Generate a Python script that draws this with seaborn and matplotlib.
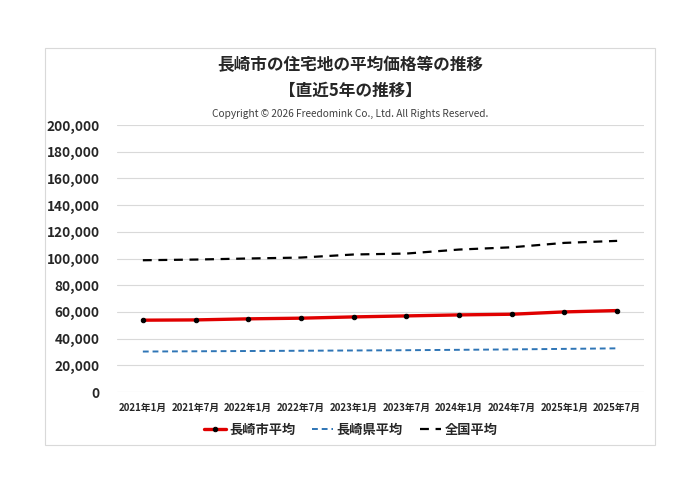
import matplotlib
matplotlib.use("Agg")
import matplotlib.pyplot as plt
import seaborn as sns
import pandas as pd
from matplotlib.patches import Rectangle
from matplotlib.ticker import FuncFormatter, MultipleLocator

sns.set_theme(style="white")
plt.rcParams['font.family'] = ['Noto Sans CJK JP', 'DejaVu Sans']

periods = ["2021年1月", "2021年7月", "2022年1月", "2022年7月", "2023年1月",
           "2023年7月", "2024年1月", "2024年7月", "2025年1月", "2025年7月"]
city_avg = [53800, 54000, 54800, 55300, 56250, 57000, 57750, 58250, 60000, 61000]
pref_avg = [30300, 30500, 30700, 30900, 31100, 31300, 31600, 31900, 32300, 32700]
national_avg = [98700, 99200, 100000, 100700, 103000, 103700, 106700, 108400, 111700, 113200]
series_names = ["長崎市平均", "長崎県平均", "全国平均"]

df = pd.DataFrame({"period": periods, "city": city_avg, "pref": pref_avg, "nat": national_avg})

fig = plt.figure(figsize=(7, 4.95), dpi=100)
fig.patch.set_facecolor("white")
fig.add_artist(Rectangle((44.5 / 700, 1 - 445 / 495), (655 - 44.5) / 700, (445 - 47.5) / 495,
                         transform=fig.transFigure, fill=False, edgecolor="#d9d9d9", linewidth=0.8))

ax = fig.add_axes([116.5 / 700, 1 - 392 / 495, (643.5 - 116.5) / 700, (392 - 125) / 495])

sns.lineplot(data=df, x="period", y="city", ax=ax, color="#e00000", linewidth=2.4,
             marker="o", markersize=3.2, markerfacecolor="black", markeredgecolor="black",
             label=series_names[0], sort=False)
sns.lineplot(data=df, x="period", y="pref", ax=ax, color="#2e75b6", linewidth=1.4,
             linestyle=(0, (3, 2)), label=series_names[1], sort=False)
sns.lineplot(data=df, x="period", y="nat", ax=ax, color="black", linewidth=1.6,
             linestyle=(0, (4, 3)), label=series_names[2], sort=False)

ax.set_xlim(-0.5, len(periods) - 0.5)
ax.set_ylim(0, 200000)
ax.yaxis.set_major_locator(MultipleLocator(20000))
ax.yaxis.set_major_formatter(FuncFormatter(lambda v, p: f"{int(v):,}"))
ax.grid(axis="y", color="#d9d9d9", linewidth=0.8)
ax.set_axisbelow(True)
for s in ax.spines.values():
    s.set_visible(False)
ax.set_xlabel("")
ax.set_ylabel("")
ax.tick_params(axis="y", labelsize=9.8, pad=12, length=0)
ax.tick_params(axis="x", labelsize=7, pad=8, length=0)
for lab in ax.get_yticklabels() + ax.get_xticklabels():
    lab.set_fontweight("bold")

fig.text(350 / 700, 1 - 65 / 495, "長崎市の住宅地の平均価格等の推移", ha="center", va="center",
         fontsize=12, fontweight="bold")
fig.text(350 / 700, 1 - 90.5 / 495, "【直近5年の推移】", ha="center", va="center",
         fontsize=12, fontweight="bold")
fig.text(350 / 700, 1 - 114 / 495, "Copyright © 2026 Freedomink Co., Ltd. All Rights Reserved.",
         ha="center", va="center", fontsize=7.3, color="#404040")

leg = ax.legend(loc="center", bbox_to_anchor=(351 / 700, 1 - 430 / 495), bbox_transform=fig.transFigure,
                ncol=3, frameon=False, fontsize=9.5, handlelength=1.6, columnspacing=1.3,
                handletextpad=0.25)
for t in leg.get_texts():
    t.set_fontweight("bold")

fig.savefig("out.png", dpi=100, facecolor="white")
